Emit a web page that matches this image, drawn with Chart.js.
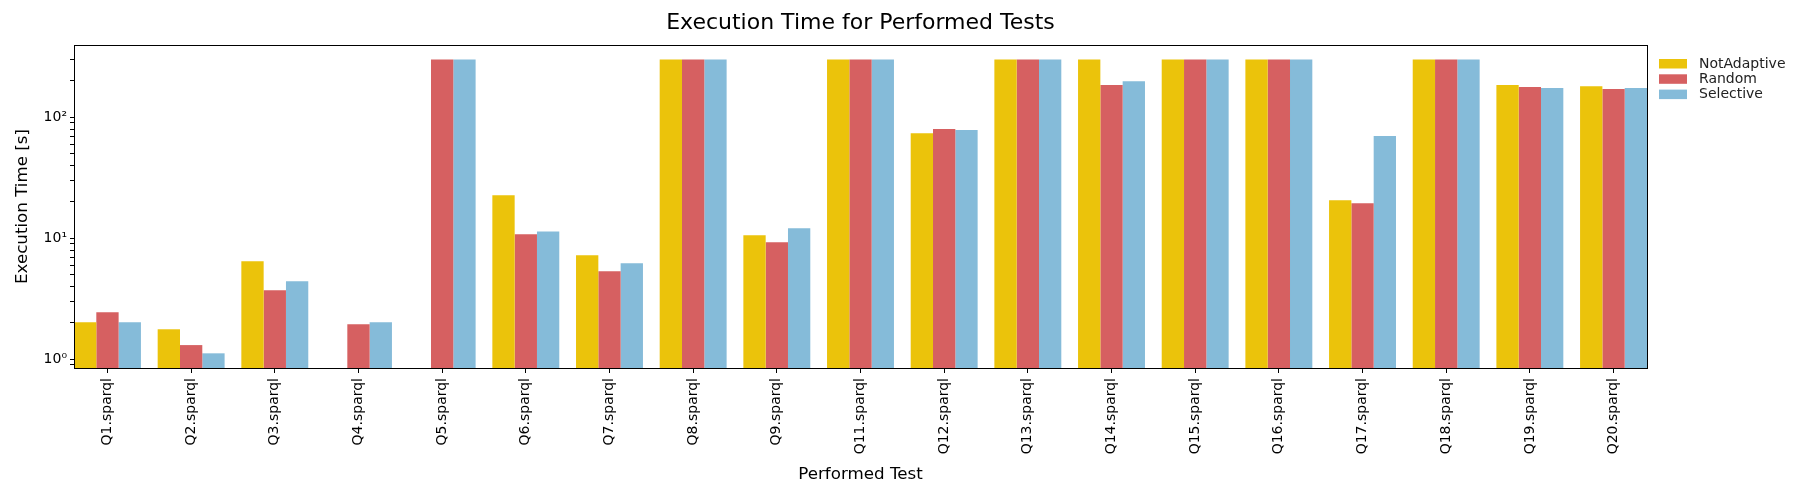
<!DOCTYPE html>
<html>
<head>
<meta charset="utf-8">
<script src="https://cdn.jsdelivr.net/npm/chart.js@4.4.1/dist/chart.umd.min.js"></script>
<style>
  html, body { margin: 0; padding: 0; background: #fff; }
</style>
</head>
<body>
<canvas id="execChart" width="1805" height="500"></canvas>
<script>
const tests = ['Q1.sparql', 'Q2.sparql', 'Q3.sparql', 'Q4.sparql', 'Q5.sparql', 'Q6.sparql',
  'Q7.sparql', 'Q8.sparql', 'Q9.sparql', 'Q11.sparql', 'Q12.sparql', 'Q13.sparql', 'Q14.sparql',
  'Q15.sparql', 'Q16.sparql', 'Q17.sparql', 'Q18.sparql', 'Q19.sparql', 'Q20.sparql'];

const notAdaptive = [2.02, 1.77, 6.46, null, null, 22.7, 7.24, 300, 10.6, 300, 74, 300, 300, 300, 300, 20.6, 300, 185, 181];
const random      = [2.45, 1.31, 3.72, 1.95, 300, 10.8, 5.34, 300, 9.27, 300, 80, 300, 185, 300, 300, 19.5, 300, 178, 171];
const selective   = [2.02, 1.12, 4.41, 2.02, 300, 11.4, 6.21, 300, 12.1, 300, 78.6, 300, 199, 300, 300, 70, 300, 175, 175];

const seriesNames = ['NotAdaptive', 'Random', 'Selective'];
const seriesColors = ['#ebc30b', '#d66061', '#85bbd9'];

const yMajorTicks = [1, 10, 100];
const yMajorLabels = ['10\u2070', '10\u00b9', '10\u00b2'];

const chartTitle = 'Execution Time for Performed Tests';
const FONT = 'DejaVu Sans';

function toPoints(arr) {
  return arr.map((v, i) => ({ x: i, y: v }));
}

// box around the plot area (matplotlib style spines)
const frame = {
  id: 'frame',
  afterDatasetsDraw(chart) {
    const { ctx, chartArea: a } = chart;
    ctx.save();
    ctx.strokeStyle = '#000';
    ctx.lineWidth = 1;
    ctx.strokeRect(Math.round(a.left) + 0.5, Math.round(a.top) + 0.5,
      Math.round(a.right - a.left), Math.round(a.bottom - a.top));
    ctx.restore();
  }
};

// title centred over the plot area, like the axes title in matplotlib
const axesTitle = {
  id: 'axesTitle',
  afterDraw(chart) {
    const { ctx, chartArea: a } = chart;
    ctx.save();
    ctx.font = '22px "' + FONT + '"';
    ctx.fillStyle = '#000';
    ctx.textAlign = 'center';
    ctx.textBaseline = 'middle';
    ctx.fillText(chartTitle, (a.left + a.right) / 2, 23);
    ctx.restore();
  }
};

// legend placed outside the plot on the right
const sideLegend = {
  id: 'sideLegend',
  afterDraw(chart) {
    const { ctx, chartArea: a } = chart;
    ctx.save();
    ctx.font = '14px "' + FONT + '"';
    ctx.textBaseline = 'middle';
    chart.data.datasets.forEach((ds, i) => {
      const y = 63.5 + i * 15.3;
      ctx.fillStyle = ds.backgroundColor;
      ctx.fillRect(a.right + 12, y - 4.5, 28, 9.5);
      ctx.fillStyle = '#222';
      ctx.fillText(ds.label, a.right + 52, y + 0.5);
    });
    ctx.restore();
  }
};

const series = [notAdaptive, random, selective];

new Chart(document.getElementById('execChart'), {
  type: 'bar',
  data: {
    datasets: series.map((s, i) => ({
      label: seriesNames[i],
      data: toPoints(s),
      backgroundColor: seriesColors[i],
      borderWidth: 0,
      categoryPercentage: 0.8,
      barPercentage: 1.0
    }))
  },
  options: {
    responsive: false,
    animation: false,
    devicePixelRatio: 1,
    layout: { padding: { left: 6, right: 158, top: 45, bottom: 0 } },
    plugins: {
      legend: { display: false },
      tooltip: { enabled: false },
      title: { display: false }
    },
    scales: {
      x: {
        type: 'linear',
        offset: false,
        min: -0.4,
        max: 18.4,
        afterBuildTicks: (scale) => {
          scale.ticks = tests.map((_, i) => ({ value: i }));
        },
        afterFit: (scale) => { scale.height = 132; },
        ticks: {
          autoSkip: false,
          minRotation: 90,
          maxRotation: 90,
          padding: 5,
          color: '#000',
          font: { family: FONT, size: 14 },
          callback: (v) => tests[v]
        },
        grid: {
          display: true,
          offset: false,
          drawOnChartArea: false,
          tickLength: 5,
          color: '#000',
          tickColor: '#000'
        },
        border: { display: false },
        title: {
          display: true,
          text: 'Performed Test',
          color: '#000',
          font: { family: FONT, size: 16.7 },
          padding: { top: 0, bottom: 15.5 }
        }
      },
      y: {
        type: 'logarithmic',
        min: 0.847,
        max: 396,
        afterBuildTicks: (scale) => {
          const t = [];
          [0.1, 1, 10, 100].forEach(d => {
            for (let k = 1; k < 10; k++) {
              const v = +(d * k).toPrecision(3);
              if (v >= scale.min && v <= scale.max) t.push({ value: v });
            }
          });
          scale.ticks = t;
        },
        afterFit: (scale) => { scale.width = 68; },
        ticks: {
          autoSkip: false,
          padding: 3,
          color: '#000',
          font: { family: FONT, size: 14 },
          callback: (v) => {
            const idx = yMajorTicks.indexOf(v);
            return idx >= 0 ? yMajorLabels[idx] : '';
          }
        },
        grid: {
          display: true,
          drawOnChartArea: false,
          tickLength: 4,
          color: '#000',
          tickColor: '#000'
        },
        border: { display: false },
        title: {
          display: true,
          text: 'Execution Time [s]',
          color: '#000',
          font: { family: FONT, size: 16.7 },
          padding: { top: 6.5, bottom: 0 }
        }
      }
    }
  },
  plugins: [frame, axesTitle, sideLegend]
});
</script>
</body>
</html>
